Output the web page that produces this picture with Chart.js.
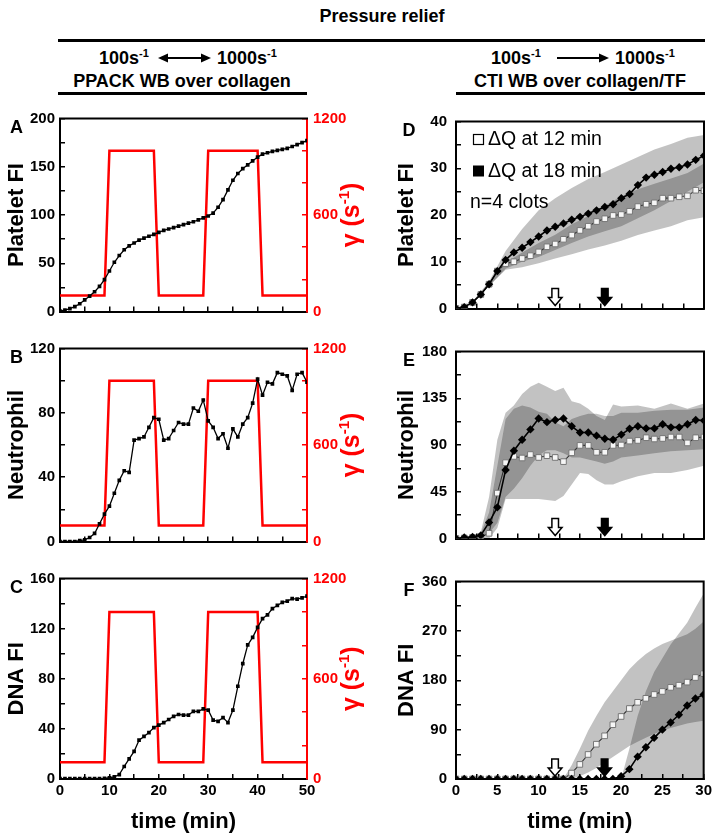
<!DOCTYPE html>
<html>
<head>
<meta charset="utf-8">
<script src="https://cdn.jsdelivr.net/npm/chart.js@4.4.0/dist/chart.umd.min.js"></script>
<style>
  html, body { margin: 0; padding: 0; background: #fff; }
  #fig { position: relative; width: 721px; height: 838px; overflow: hidden;
         font-family: 'Liberation Sans', Arial, sans-serif; font-weight: bold; color: #000; }
  #fig canvas { position: absolute; }
  .lbl { position: absolute; height: 22px; line-height: 22px; font-size: 18px; white-space: nowrap; }
  .ctr { text-align: center; }
  .lbl sup { font-size: 11px; vertical-align: 0; position: relative; top: -7px; line-height: 0; }
  .rule { position: absolute; height: 3px; background: #000; }
  .arrow { position: absolute; }
  .right { z-index: 2; }
</style>
</head>
<body>
<div id="fig">
  <!-- header -->
  <div class="lbl ctr" style="left:232px; top:5px; width:300px;">Pressure relief</div>
  <div class="rule" style="left:58px; top:39px; width:647px;"></div>

  <div class="lbl" style="left:99px; top:47px;">100s<sup>-1</sup></div>
  <svg class="arrow" style="left:158px; top:52px;" width="53" height="12">
    <line x1="6" y1="6" x2="47" y2="6" stroke="#000" stroke-width="2"/>
    <polygon points="0,6 10,1.5 10,10.5" fill="#000"/>
    <polygon points="53,6 43,1.5 43,10.5" fill="#000"/>
  </svg>
  <div class="lbl" style="left:217px; top:47px;">1000s<sup>-1</sup></div>
  <div class="lbl ctr" style="left:32px; top:70px; width:300px;">PPACK WB over collagen</div>
  <div class="rule" style="left:58px; top:92px; width:249px;"></div>

  <div class="lbl" style="left:491px; top:47px;">100s<sup>-1</sup></div>
  <svg class="arrow" style="left:557px; top:52px;" width="52" height="12">
    <line x1="0" y1="6" x2="45" y2="6" stroke="#000" stroke-width="2"/>
    <polygon points="52,6 42,1.5 42,10.5" fill="#000"/>
  </svg>
  <div class="lbl" style="left:615px; top:47px;">1000s<sup>-1</sup></div>
  <div class="lbl ctr" style="left:430px; top:70px; width:300px;">CTI WB over collagen/TF</div>
  <div class="rule" style="left:456px; top:92px; width:249px;"></div>

  <!-- panels -->
  <canvas id="cA" width="380" height="230" style="left:0; top:100px;"></canvas>
  <canvas id="cB" width="380" height="230" style="left:0; top:330px;"></canvas>
  <canvas id="cC" width="380" height="278" style="left:0; top:560px;"></canvas>
  <canvas id="cD" class="right" width="361" height="230" style="left:360px; top:100px;"></canvas>
  <canvas id="cE" class="right" width="361" height="230" style="left:360px; top:330px;"></canvas>
  <canvas id="cF" class="right" width="361" height="278" style="left:360px; top:560px;"></canvas>
</div>

<script>
const FONT = "'Liberation Sans', Arial, Helvetica, sans-serif";
const RED = '#ff0000';
const BAND = 'rgba(0,0,0,0.24)';

// ---------- left column: PPACK WB over collagen, one reading per minute ----------
const timeLeft = [0,1,2,3,4,5,6,7,8,9,10,11,12,13,14,15,16,17,18,19,20,21,22,23,24,25,
                  26,27,28,29,30,31,32,33,34,35,36,37,38,39,40,41,42,43,44,45,46,47,48,49,50];
const plateletA = [0.5,1.5,3,5,8,12,16,20.5,26,33,42,51,58,64,68,71,74,76,78,80,82,84,85.5,87,88.5,
                   90,91.5,93,95,97,99,102,108,116,126,136,143,148,152,156,160,163,164.5,166,167,
                   168,169,171,173,175,177];
const neutrophilB = [0,0,0,0,0.5,1,2.5,5,11,17,22,30,38,44,43,63,64,65,71,77,76,63,64,69,74,73,73,
                     83,81,88,75,71,64,67,58,70,65,73,77,86,101,91,99,98,105,104,103,94,104,105,99];
const dnaC = [0.3,0.3,0.3,0.3,0.3,0.3,0.3,0.3,0.3,0.5,1,1.7,3.5,10,16,22,31,34,37,41,43,45,47.5,50,
              51.5,51,51,54,54,56,55,47,46,49,45,55,74,92,107,113,121,128,131,136,138.5,141,142,144,
              143.5,144.5,146];

// shear rate program (s^-1)
const shearTime = [0, 9, 10, 19, 20, 29, 30, 40, 41, 50];
const shearRate = [100, 100, 1000, 1000, 100, 100, 1000, 1000, 100, 100];

// ---------- right column: CTI WB over collagen/TF ----------
const timeRight = [0,1,2,3,4,5,6,7,8,9,10,11,12,13,14,15,16,17,18,19,20,21,22,23,24,25,26,27,28,29,30];
const plateletD18 = [0,0.3,1.3,3,5.2,8,10.4,12,13,14.2,15.4,16.7,17.5,18.2,19,19.6,20.3,21,21.7,22.3,
                     23.6,24.5,26.4,28,28.6,29.2,29.9,30.2,30.8,31.8,32.7];
const plateletD12 = [0,0.3,1.3,3,5.2,8,9.6,10,10.7,11.3,12.1,13.2,13.8,14.8,15.7,16.7,17.6,18.6,19.2,
                     19.9,20.1,20.8,21.8,22.3,22.6,23.6,23.6,23.9,24.1,25.3,25.2];
const neutroE18 = [0,1,1.5,3,15.5,30,66,84.5,95,105,115.5,112,114,115.5,108,102,102,99,96,95,100,105.6,
                   108,106,106,110,107,107,110,114,113.5];
const neutroE12 = [0,0.5,1,1.5,5,43.7,73,79,77.5,80.8,78,79.7,78,74,82.5,89.6,89.6,83,83,89.6,90,93.8,
                   94.4,97,95.8,96.3,97.7,97.7,92,97,97.7];
const dnaF18 = [0,0,0,0,0,0,0,0,0,0,0,0,0,0,0,0,0,0,0,0,5,18,40.7,58,75,90,103,117,134,146.6,154];
const dnaF12 = [0,0,0,0,0,0,0,0,0,0,0,0,0,0,10.8,26.6,44.7,63.4,78.7,99,114,128.5,139.8,147,154,159.6,
                167,171,176.6,185,192];

// spread bands (upper / lower edges)
const bandTimeD = [0,2,4,6,8,10,12,14,16,18,20,22,24,26,28,30];
const bandD18Hi = [0,1.5,5.8,12.3,17,21,23.6,25.8,27.7,29.2,30.8,32.4,34,35.2,36.5,37.1];
const bandD18Lo = [0,1.2,4.8,8.5,10,11,12.5,14,15.4,16.5,17.6,19.3,21,23,25,27];
const bandD12Hi = [0,1.4,5.5,9.8,12,14,15.8,18,19.8,22,24,25.5,26.7,27.8,29,31];
const bandD12Lo = [0,1.2,4.8,8.3,8.8,9.7,10.7,11.6,12.6,13.5,14.5,15.7,16.7,17.6,18.9,19.5];

const bandTimeE = [0,2,3,4,5,6,7,8,9,10,11,12,13,14,15,16,17,18,19,20,22,24,26,28,30];
const bandE12Hi = [0,3,6,40,95,121,128,139,146,150,146,142,145,132,130,125,118,114,129,127,128,125,130,125,130];
const bandE12Lo = [0,0,0,0,10,38,38,38,38,38,37,36,41,52,63,62,56,52,52,55,60,63,63,66,70];
const bandE18Hi = [0,2,5,25,70,115,125,128,126,122,120,112,108,115,118,120,120,118,118,121,121,123,124,124,126];
const bandE18Lo = [0,0,1,5,15,40,48,58,70,80,85,85,82,78,78,76,74,72,74,78,80,82,84,85,86];

const bandTimeF12 = [13,14,15,16,17,18,19,20,21,22,23,24,25,26,27,28,29,30];
const bandF12Hi = [0,25,55,88,115,140,160,180,200,215,228,238,246,252,258,264,274,287];
const bandF12Lo = [0,0,5,12,20,30,40,50,60,68,75,82,88,93,97,101,104,106];
const bandTimeF18 = [20,21,22,23,24,25,26,27,28,29,30];
const bandF18Hi = [0,55,115,160,195,220,245,265,285,312,338];

// flow change markers and legend
const arrowTimes = [12, 18];
const legendLabels = ['\u0394Q at 12 min', '\u0394Q at 18 min'];
const legendNote = 'n=4 clots';

// ---------- helpers ----------
Chart.defaults.font.family = FONT;
Chart.defaults.animation = false;
Chart.defaults.responsive = false;
Chart.defaults.devicePixelRatio = 1;
Chart.defaults.plugins.legend.display = false;
Chart.defaults.plugins.tooltip.enabled = false;

const xy = (xs, ys) => xs.map((x, i) => ({ x: x, y: ys[i] }));

function stepTicks(max, step) {
  const out = [];
  for (let k = 0; k * step <= max + 1e-9; k++) out.push({ value: +(k * step).toFixed(4) });
  return out;
}

const TICK_FONT = { family: FONT, size: 15, weight: 'bold', lineHeight: 1 };
const TITLE_FONT = { family: FONT, size: 22, weight: 'bold' };

function xAxis(max, step, major, bottomRow) {
  return {
    type: 'linear', position: 'bottom', min: 0, max: max,
    border: { color: '#000', width: 2 },
    grid: { drawOnChartArea: false, tickLength: -5, color: '#000', lineWidth: 1.5 },
    ticks: { color: '#000', padding: 9, maxRotation: 0, autoSkip: false, font: TICK_FONT,
             callback: v => (bottomRow && v % major === 0) ? String(v) : '' },
    title: { display: bottomRow, text: 'time (min)', color: '#000',
             padding: { top: 0, bottom: 3 }, font: TITLE_FONT },
    afterBuildTicks: s => { s.ticks = stepTicks(max, step); },
    afterFit: s => { s.height = bottomRow ? 59 : 10; }
  };
}

function yAxis(o) {
  return {
    type: 'linear', position: o.position, min: 0, max: o.max,
    border: { color: o.color, width: 2 },
    grid: { drawOnChartArea: false, tickLength: -5, color: o.color, lineWidth: 1.5 },
    ticks: { color: o.color, padding: o.pad, font: TICK_FONT,
             callback: v => v % o.major === 0 ? String(v) : '' },
    title: { display: !!o.title, text: o.title || '', color: '#000',
             padding: { top: o.titlePad || 0, bottom: 0 }, font: TITLE_FONT },
    afterBuildTicks: s => { s.ticks = stepTicks(o.max, o.step); },
    afterFit: s => { s.width = o.width; }
  };
}

function drawArrow(ctx, x, yb, filled) {
  const h = 17, hh = 8, sw = 3.3, hw = 6.8;
  ctx.beginPath();
  ctx.moveTo(x - sw, yb - h);
  ctx.lineTo(x + sw, yb - h);
  ctx.lineTo(x + sw, yb - hh);
  ctx.lineTo(x + hw, yb - hh);
  ctx.lineTo(x, yb);
  ctx.lineTo(x - hw, yb - hh);
  ctx.lineTo(x - sw, yb - hh);
  ctx.closePath();
  ctx.fillStyle = filled ? '#000' : '#fff';
  ctx.fill();
  ctx.lineWidth = 1.5;
  ctx.strokeStyle = '#000';
  ctx.stroke();
}

// frame top line, panel letter, red gamma title, arrows and legend
const decor = {
  id: 'decor',
  afterDraw(chart, args, o) {
    const { ctx, chartArea: a } = chart;
    ctx.save();
    ctx.strokeStyle = '#000';
    ctx.lineWidth = 2;
    ctx.beginPath();
    ctx.moveTo(a.left - 1, a.top);
    ctx.lineTo(a.right + 1, a.top);
    if (o.rightFrame) {
      ctx.moveTo(a.right, a.top);
      ctx.lineTo(a.right, a.bottom + 1);
    }
    ctx.stroke();

    ctx.fillStyle = '#000';
    ctx.font = `bold 18px ${FONT}`;
    ctx.textAlign = 'center';
    ctx.textBaseline = 'middle';
    ctx.fillText(o.letter, o.letterX, a.top + 9.5);

    if (o.gamma) {
      ctx.save();
      ctx.translate(351, (a.top + a.bottom) / 2);
      ctx.rotate(-Math.PI / 2);
      ctx.fillStyle = RED;
      ctx.textAlign = 'left';
      ctx.textBaseline = 'alphabetic';
      const big = `bold 25px ${FONT}`, small = `bold 15px ${FONT}`;
      ctx.font = big;
      const w1 = ctx.measureText('\u03b3 (s').width, w3 = ctx.measureText(')').width;
      ctx.font = small;
      const w2 = ctx.measureText('-1').width;
      let x = -(w1 + w2 + w3) / 2;
      const base = 8;
      ctx.font = big; ctx.fillText('\u03b3 (s', x, base); x += w1;
      ctx.font = small; ctx.fillText('-1', x, base - 10); x += w2;
      ctx.font = big; ctx.fillText(')', x, base);
      ctx.restore();
    }

    if (o.arrows) {
      const xs = chart.scales.x;
      arrowTimes.forEach((t, i) => drawArrow(ctx, xs.getPixelForValue(t), a.bottom - 3, i === 1));
    }

    if (o.legend) {
      const x0 = a.left + 17;
      ctx.lineWidth = 1.2;
      ctx.strokeStyle = '#000';
      ctx.fillStyle = '#fff';
      ctx.fillRect(x0, a.top + 12.5, 11, 11);
      ctx.strokeRect(x0 + 0.5, a.top + 13, 10, 10);
      ctx.fillStyle = '#000';
      ctx.fillRect(x0, a.top + 44, 11, 11);
      ctx.font = `19.5px ${FONT}`;
      ctx.textAlign = 'left';
      ctx.textBaseline = 'middle';
      ctx.fillText(legendLabels[0], a.left + 32, a.top + 18.5);
      ctx.fillText(legendLabels[1], a.left + 32, a.top + 50);
      ctx.fillText(legendNote, a.left + 14, a.top + 81);
    }
    ctx.restore();
  }
};

function leftPanel(id, letter, values, yMax, yStep, yMajor, title, topPad, bottomRow) {
  new Chart(document.getElementById(id), {
    type: 'line',
    data: {
      datasets: [
        { data: xy(timeLeft, values), yAxisID: 'y', borderColor: '#000', borderWidth: 1.3,
          pointStyle: 'rect', pointRadius: 2.6, pointBackgroundColor: '#000', pointBorderWidth: 0 },
        { data: xy(shearTime, shearRate), yAxisID: 'y2', borderColor: RED, borderWidth: 2.5,
          pointRadius: 0 }
      ]
    },
    options: {
      layout: { padding: { top: topPad, left: 0, right: 0, bottom: 0 } },
      scales: {
        x: xAxis(50, 5, 10, bottomRow),
        y: yAxis({ position: 'left', max: yMax, step: yStep, major: yMajor, width: 60,
                   color: '#000', pad: 10, title: title, titlePad: 4 }),
        y2: yAxis({ position: 'right', max: 1200, step: 100, major: 300, width: 73,
                    color: RED, pad: 11 })
      },
      plugins: { decor: { letter: letter, letterX: 16.5, gamma: true } }
    },
    plugins: [decor]
  });
}

function bandPair(times, hi, lo) {
  return [
    { data: xy(times, hi), fill: '+1', backgroundColor: BAND, borderColor: 'rgba(0,0,0,0)',
      borderWidth: 0, pointRadius: 0 },
    { data: xy(times, lo), fill: false, borderColor: 'rgba(0,0,0,0)', borderWidth: 0, pointRadius: 0 }
  ];
}

function rightPanel(id, letter, s18, s12, bands, yMax, yStep, yMajor, title, topPad, bottomRow, legend) {
  new Chart(document.getElementById(id), {
    type: 'line',
    data: {
      datasets: [
        { data: xy(timeRight, s18), borderColor: '#000', borderWidth: 1.6, pointStyle: 'rectRot',
          pointRadius: 4.2, pointBackgroundColor: '#000', pointBorderWidth: 0 },
        { data: xy(timeRight, s12), borderColor: '#333', borderWidth: 1.1, pointStyle: 'rect',
          pointRadius: 4, pointBackgroundColor: '#f6f6f6', pointBorderColor: '#777', pointBorderWidth: 1 }
      ].concat(bands)
    },
    options: {
      layout: { padding: { top: topPad, left: 0, right: 17, bottom: 0 } },
      scales: {
        x: xAxis(30, 2.5, 5, bottomRow),
        y: yAxis({ position: 'left', max: yMax, step: yStep, major: yMajor, width: 96,
                   color: '#000', pad: 14, title: title, titlePad: 34 })
      },
      plugins: { decor: { letter: letter, letterX: 49, rightFrame: true, arrows: true, legend: legend } }
    },
    plugins: [decor]
  });
}

leftPanel('cA', 'A', plateletA, 200, 25, 50, 'Platelet FI', 8, false);
leftPanel('cB', 'B', neutrophilB, 120, 20, 40, 'Neutrophil', 7, false);
leftPanel('cC', 'C', dnaC, 160, 20, 40, 'DNA FI', 7, true);

rightPanel('cD', 'D', plateletD18, plateletD12,
  bandPair(bandTimeD, bandD18Hi, bandD18Lo).concat(bandPair(bandTimeD, bandD12Hi, bandD12Lo)),
  40, 5, 10, 'Platelet FI', 8, false, true);
rightPanel('cE', 'E', neutroE18, neutroE12,
  bandPair(bandTimeE, bandE18Hi, bandE18Lo).concat(bandPair(bandTimeE, bandE12Hi, bandE12Lo)),
  180, 22.5, 45, 'Neutrophil', 7, false, false);
rightPanel('cF', 'F', dnaF18, dnaF12,
  [{ data: xy(bandTimeF18, bandF18Hi), fill: 'origin', backgroundColor: BAND,
     borderColor: 'rgba(0,0,0,0)', borderWidth: 0, pointRadius: 0 }]
    .concat(bandPair(bandTimeF12, bandF12Hi, bandF12Lo)),
  360, 45, 90, 'DNA FI', 7, true, false);
</script>
</body>
</html>
